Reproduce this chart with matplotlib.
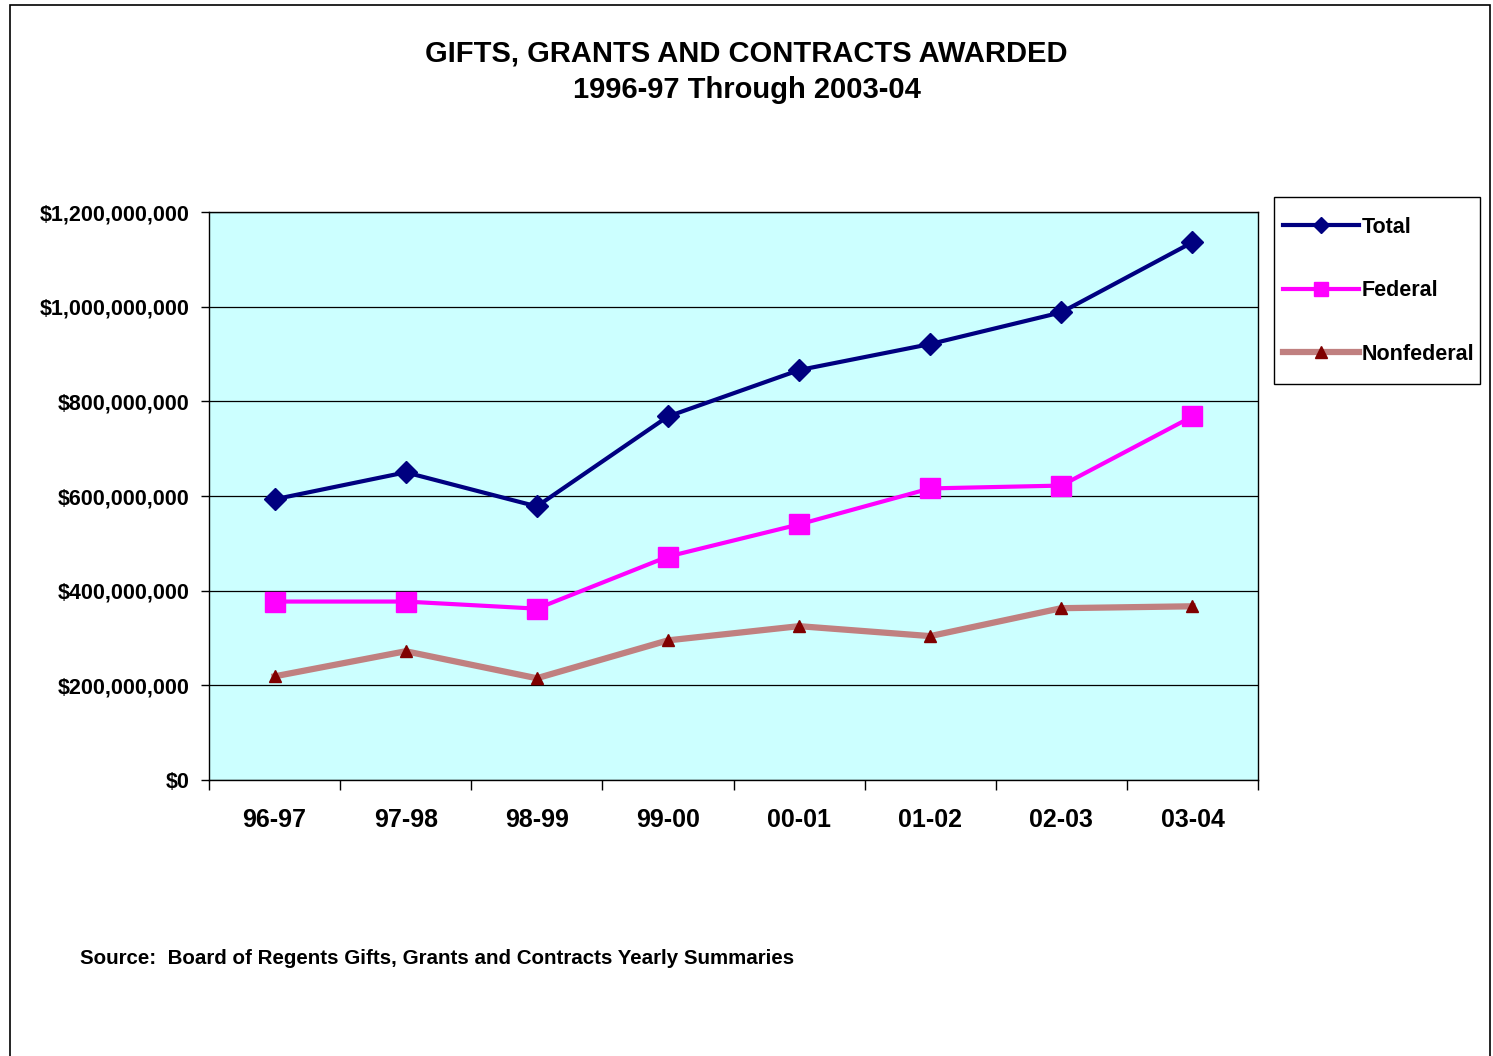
import matplotlib.pyplot as plt
from matplotlib.patches import Rectangle
from matplotlib.ticker import FuncFormatter

years = ["96-97", "97-98", "98-99", "99-00", "00-01", "01-02", "02-03", "03-04"]
total = [593e6, 650e6, 578e6, 768e6, 866e6, 921e6, 988e6, 1136e6]
federal = [377e6, 377e6, 362e6, 472e6, 540e6, 616e6, 622e6, 768e6]
nonfederal = [219e6, 272e6, 215e6, 295e6, 325e6, 304e6, 363e6, 367e6]

plt.rcParams['font.family'] = ['Liberation Sans', 'DejaVu Sans']
plt.rcParams['font.weight'] = 'bold'

W, H = 1493, 1056
fig = plt.figure(figsize=(W / 100, H / 100), dpi=100)
# outer chart border (bottom edge runs off the page)
fig.patches.append(Rectangle((10 / W, -0.01), 1480 / W, 1 - 5 / H + 0.01,
                             transform=fig.transFigure, fill=False,
                             edgecolor='black', linewidth=1.2))
# legend box
fig.patches.append(Rectangle((1274 / W, 1 - 384 / H), 206 / W, 187 / H,
                             transform=fig.transFigure, fill=False,
                             edgecolor='black', linewidth=1))

ax = fig.add_axes([209 / W, 1 - 780 / H, 1049 / W, 568 / H])
ax.set_facecolor('#CCFFFF')

x = list(range(len(years)))
ax.plot(x, total, color='#000080', lw=3, marker='D', ms=11, label='Total', zorder=4)
ax.plot(x, federal, color='#FF00FF', lw=3, marker='s', ms=15, label='Federal', zorder=4)
ax.plot(x, nonfederal, color='#C08080', lw=4.5, marker='^', ms=9,
        markerfacecolor='#800000', markeredgecolor='#800000', label='Nonfederal', zorder=3)

ax.set_xlim(-0.5, len(years) - 0.5)
ax.set_ylim(0, 1.2e9)
ax.set_yticks([i * 2e8 for i in range(7)])
ax.yaxis.set_major_formatter(FuncFormatter(lambda v, p: "${:,.0f}".format(v)))
ax.grid(axis='y', color='black', lw=0.9)
ax.set_axisbelow(True)

ax.set_xticks(x)
ax.set_xticklabels(years)
ax.set_xticks([i - 0.5 for i in range(len(years) + 1)], minor=True)
ax.tick_params(axis='x', which='major', length=0, pad=20, labelsize=18)
ax.tick_params(axis='x', which='minor', length=7, width=1, direction='out')
ax.tick_params(axis='y', length=6, width=1, labelsize=15.5, pad=8)
for lbl in ax.get_xticklabels() + ax.get_yticklabels():
    lbl.set_fontweight('bold')
for s in ax.spines.values():
    s.set_linewidth(1)

fig.text(0.5, 1 - 53 / H, "GIFTS, GRANTS AND CONTRACTS AWARDED", ha='center', va='center',
         fontsize=21, fontweight='bold')
fig.text(0.5, 1 - 90 / H, "1996-97 Through 2003-04", ha='center', va='center',
         fontsize=21, fontweight='bold')

leg = fig.legend(loc='upper left', bbox_to_anchor=(1283 / W, 1 - 217 / H),
                 fontsize=15.5, frameon=False,
                 handlelength=3.55, handletextpad=0.12, labelspacing=1.97,
                 borderpad=0, borderaxespad=0)
for t in leg.get_texts():
    t.set_fontweight('bold')
for h, size in zip(leg.legend_handles, [8, 9.5, 8]):
    h.set_markersize(size)

fig.text(80 / W, 1 - 958 / H, "Source:  Board of Regents Gifts, Grants and Contracts Yearly Summaries",
         ha='left', va='center', fontsize=14.8, fontweight='bold')

plt.savefig("out.png", dpi=100)
